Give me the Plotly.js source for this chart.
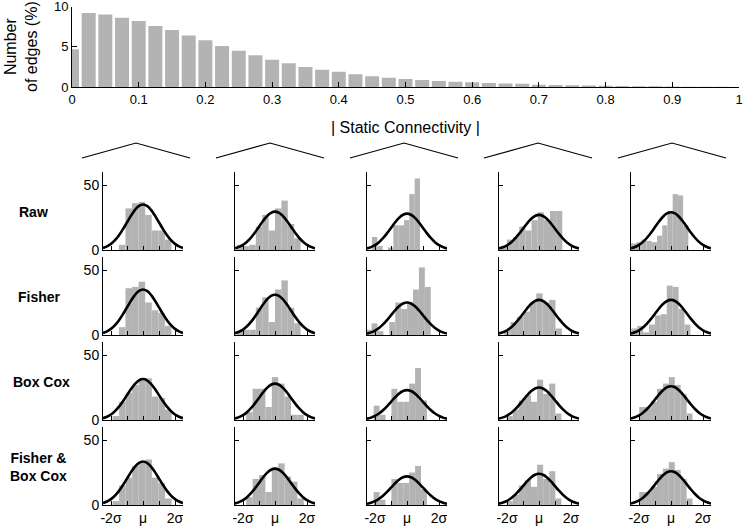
<!DOCTYPE html>
<html>
<head>
<meta charset="utf-8">
<script src="https://cdn.plot.ly/plotly-3.0.1.min.js"></script>
<style>
  html, body { margin: 0; padding: 0; background: #fff; }
  #chart { width: 750px; height: 526px; }
</style>
</head>
<body>
<div id="chart"></div>
<script>
// ── Top histogram: |static connectivity| in bins of 0.025 ─────────────────
const topBinStart = 0;
const topBinWidth = 0.025;
const edgePercent = [4.7, 9.2, 9.0, 8.6, 8.2, 7.6, 7.1, 6.4, 5.8, 5.1, 4.5,
  3.95, 3.4, 2.95, 2.5, 2.15, 1.9, 1.6, 1.35, 1.15, 1.0, 0.87, 0.74, 0.66,
  0.58, 0.5, 0.45, 0.41, 0.29, 0.25, 0.22, 0.2, 0.15, 0.12, 0.1, 0.08, 0.06,
  0.04, 0.03, 0.02, 0.01];
const topTickVals = [0, 0.1, 0.2, 0.3, 0.4, 0.5, 0.6, 0.7, 0.8, 0.9, 1];
const topTickText = ['0', '0.1', '0.2', '0.3', '0.4', '0.5', '0.6', '0.7', '0.8', '0.9', '1'];

// ── Small panels: rows = transform, cols = 5 example edges (x in sigma units) ──
const rowNames = ['Raw', 'Fisher', 'Box Cox', 'Fisher &<br>Box Cox'];

// centre of first bin (sigma), bin width (sigma), fitted normal peak height
const binStart = [
  [-1.30, -2.20, -2.02, -2.20, -2.34],
  [-1.30, -2.20, -2.40, -1.97, -2.30],
  [-1.70, -1.60, -1.90, -1.83, -1.80],
  [-1.70, -1.60, -1.90, -1.83, -1.80]
];
const binWidth = [
  [0.41, 0.40, 0.333, 0.385, 0.326],
  [0.41, 0.40, 0.37, 0.40, 0.37],
  [0.41, 0.40, 0.37, 0.38, 0.37],
  [0.41, 0.40, 0.37, 0.38, 0.37]
];
const fitPeak = [
  [35, 29.5, 28, 27, 29],
  [35, 31, 25, 27, 27],
  [31.5, 28, 23, 25, 26],
  [33.5, 28, 22, 24, 26]
];

const rawCounts = [
  [4, 32, 36, 37, 27, 15, 15, 8],
  [4, 3, 4, 18, 27, 15, 32, 38, 20, 9],
  [10, 3, 0, 2, 19, 19, 23, 43, 55],
  [3, 8, 10, 18, 15, 23, 29, 23, 30, 30],
  [5, 6, 8, 7, 6, 11, 19, 30, 43, 42, 19]
];
const fisherCounts = [
  [6, 36, 37, 41, 25, 19, 17, 7],
  [3, 4, 4, 21, 29, 10, 35, 42, 21, 9],
  [4, 9, 3, 0, 10, 25, 20, 25, 35, 52, 37],
  [4, 10, 14, 18, 25, 32, 25, 27, 5],
  [5, 7, 2, 8, 15, 16, 38, 37, 20, 8]
];
const boxCoxCounts = [
  [3, 14, 21, 27, 32, 32, 18, 17, 8],
  [6, 24, 24, 10, 33, 28, 18, 4, 4],
  [11, 4, 0, 24, 14, 14, 28, 40, 15],
  [3, 8, 15, 19, 14, 31, 20, 28, 5],
  [10, 10, 14, 24, 28, 33, 27, 20, 5]
];
const fisherBoxCoxCounts = [
  [3, 15, 21, 30, 33, 35, 21, 17, 5],
  [6, 20, 23, 10, 28, 32, 22, 18, 5],
  [10, 4, 0, 20, 17, 17, 25, 30, 12],
  [3, 8, 15, 19, 14, 31, 20, 26, 5],
  [10, 10, 14, 24, 28, 33, 27, 20, 5]
];
const panelCounts = [rawCounts, fisherCounts, boxCoxCounts, fisherBoxCoxCounts];

// unit normal outline, sampled every 0.25 sigma
const curveX = [-2.5, -2.25, -2, -1.75, -1.5, -1.25, -1, -0.75, -0.5, -0.25, 0,
  0.25, 0.5, 0.75, 1, 1.25, 1.5, 1.75, 2, 2.25, 2.5];
const curveShape = [0.044, 0.080, 0.135, 0.216, 0.325, 0.458, 0.607, 0.755, 0.882, 0.969, 1,
  0.969, 0.882, 0.755, 0.607, 0.458, 0.325, 0.216, 0.135, 0.080, 0.044];

const sigmaTickVals = [-2, -1, 0, 1, 2];
const sigmaTickText = ['-2σ', '', 'μ', '', '2σ'];

// ── Geometry (pixels on the 750 x 526 page) ───────────────────────────────
const W = 750, H = 526;
const fx = p => p / W;
const fy = p => 1 - p / H;
const FONT = 'Liberation Sans, Arial, Helvetica, sans-serif';
const GREY = '#b3b3b3';
const rowLabelX = [33, 39, 41, 38];

const axisBase = {
  showline: true, linecolor: '#000', linewidth: 1,
  ticks: 'inside', ticklen: 4, tickcolor: '#000', tickwidth: 1,
  showgrid: false, zeroline: false, fixedrange: true,
  ticklabeloverflow: 'allow',
  tickfont: { size: 13, color: '#000' }
};

const traces = [{
  type: 'bar', x0: topBinStart, dx: topBinWidth, y: edgePercent,
  width: 0.021, marker: { color: GREY, line: { width: 0 } },
  xaxis: 'x', yaxis: 'y', hoverinfo: 'skip'
}];

const note = (text, x, y, extra) => Object.assign({
  text, x: fx(x), y: fy(y), xref: 'paper', yref: 'paper',
  xanchor: 'center', yanchor: 'middle', showarrow: false
}, extra);

const layout = {
  width: W, height: H,
  margin: { l: 0, r: 0, t: 0, b: 0 },
  paper_bgcolor: '#fff', plot_bgcolor: 'rgba(0,0,0,0)',
  showlegend: false,
  font: { family: FONT, color: '#000' },
  xaxis: Object.assign({}, axisBase, {
    domain: [fx(72), fx(739)], range: [0, 1], anchor: 'y',
    tickvals: topTickVals, ticktext: topTickText, ticklen: 5
  }),
  yaxis: Object.assign({}, axisBase, {
    domain: [fy(87), fy(6.5)], range: [0, 10.01], anchor: 'x',
    tickvals: [0, 5, 10], ticktext: ['0', '5', '10'], ticklen: 5
  }),
  shapes: [],
  annotations: [
    note('| Static Connectivity |', 405, 128, { font: { size: 16 } }),
    note('Number<br>of edges (%)', 21, 47, { textangle: -90, font: { size: 16 } })
  ]
};

for (let r = 0; r < 4; r++) {
  const base = 250 + 85 * r;
  for (let c = 0; c < 5; c++) {
    const n = 2 + r * 5 + c;
    const left = 103 + 132 * c;
    const xa = 'x' + n, ya = 'y' + n;

    traces.push({
      type: 'bar', x0: binStart[r][c], dx: binWidth[r][c], y: panelCounts[r][c],
      width: binWidth[r][c], marker: { color: GREY, line: { width: 0 } },
      xaxis: xa, yaxis: ya, hoverinfo: 'skip'
    });
    traces.push({
      type: 'scatter', mode: 'lines', x: curveX,
      y: curveShape.map(v => v * fitPeak[r][c]),
      line: { color: '#000', width: 2.6, shape: 'spline' },
      xaxis: xa, yaxis: ya, hoverinfo: 'skip', cliponaxis: false
    });

    layout['xaxis' + n] = Object.assign({}, axisBase, {
      domain: [fx(left), fx(left + 80)], range: [-2.5, 2.5], anchor: ya,
      tickvals: sigmaTickVals,
      ticktext: r === 3 ? sigmaTickText : ['', '', '', '', ''],
      tickfont: { size: 14, color: '#000' }
    });
    layout['yaxis' + n] = Object.assign({}, axisBase, {
      domain: [fy(base), fy(base - 78)], range: [0, 60], anchor: xa,
      tickvals: [0, 50],
      ticktext: c === 0 ? ['0', '50'] : ['', ''],
      tickfont: { size: 14, color: '#000' }
    });
  }
  layout.annotations.push(note('<b>' + rowNames[r] + '</b>', rowLabelX[r], 212 + 85 * r,
    { font: { size: 14 } }));
}

// tent brackets linking the top histogram to the five columns
for (let c = 0; c < 5; c++) {
  const mid = 136 + 134 * c;
  layout.shapes.push({
    type: 'path', xref: 'paper', yref: 'paper',
    path: `M ${fx(mid - 54)},${fy(158)} L ${fx(mid)},${fy(143)} L ${fx(mid + 54)},${fy(158)}`,
    line: { color: '#000', width: 1.2 }
  });
}

Plotly.newPlot('chart', traces, layout, { displayModeBar: false, staticPlot: true });
</script>
</body>
</html>
